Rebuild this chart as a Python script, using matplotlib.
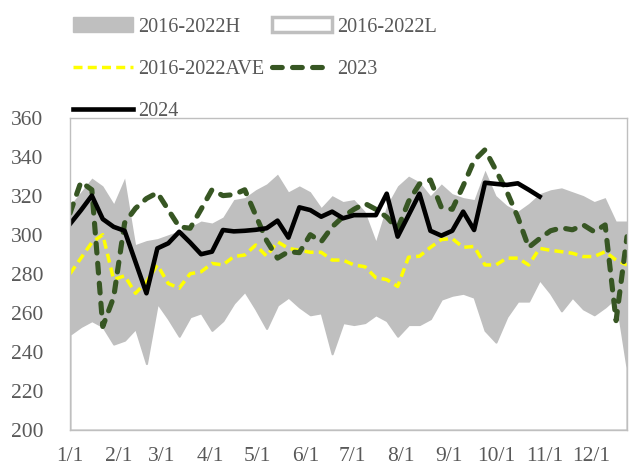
import numpy as np
import matplotlib.pyplot as plt
from matplotlib.patches import Patch
from matplotlib.lines import Line2D

plt.rcParams['font.family'] = ['Liberation Serif', 'DejaVu Serif']

# weekly points, x = day of year
week_day = np.arange(52) * 7

hist_high = [315, 322, 329, 325, 316, 329, 295, 297, 298, 300,
             302, 304, 307, 306, 309, 318, 319, 323, 326, 331,
             322, 325, 322, 314, 320, 317, 318, 312, 297, 315,
             325, 330, 327, 320, 326, 321, 319, 318, 333, 320,
             315, 312, 316, 321, 323, 324, 322, 320, 317, 319,
             307, 307]
hist_low = [249, 253, 256, 253, 244, 246, 252, 234, 265, 257,
            248, 258, 260, 251, 256, 265, 271, 262, 252, 264,
            268, 263, 259, 260, 239, 255, 254, 255, 259, 256,
            248, 254, 254, 257, 267, 269, 270, 268, 251, 245,
            258, 266, 266, 277, 270, 261, 268, 262, 259, 263,
            268, 232]
hist_ave = [280, 288, 296, 300, 277, 279, 270, 276, 284.5, 275,
            272.6, 280, 281, 285.3, 284.5, 288.8, 289.6, 294.7, 289, 296.4,
            293, 292, 291, 291, 287, 287, 284.5, 283.6, 278, 277,
            273.5, 288.5, 289, 293.5, 297.5, 298, 293.5, 294, 284.5, 284.5,
            288, 288, 284.5, 293, 292, 291.3, 290.5, 288.8, 288.8, 291.3,
            287, 284.5]
y2023 = [311, 327, 323, 253, 268, 306, 313.5, 318.5, 321.5, 312.7,
         304, 303.3, 313, 323, 320, 320.5, 323, 310, 297, 288,
         291.3, 290.8, 300, 296.4, 304, 309.2, 313, 316, 313, 309,
         303, 317, 326, 328, 314, 313, 325, 338, 343.5, 333,
         322, 309, 293.5, 298, 302, 303.5, 302.5, 305, 301.5, 305,
         256, 299]
y2024 = [305.5, 312.5, 320, 308, 304, 302, 286, 270, 293, 295.6,
         301.5, 296, 290, 291.3, 302.4, 301.7, 302, 302.5, 303.3, 307.2,
         298.5, 314, 312.6, 309.2, 311.8, 308.4, 310, 310, 310, 321,
         299, 310, 321, 302, 299.5, 302, 311.8, 302.4, 326.6, 326,
         325.5, 326.3, 323, 319.5]

month_days = [0, 31, 59, 90, 120, 151, 181, 212, 243, 273, 304, 334]
month_labels = ['1/1', '2/1', '3/1', '4/1', '5/1', '6/1',
                '7/1', '8/1', '9/1', '10/1', '11/1', '12/1']

W, H = 629, 469
fig = plt.figure(figsize=(W / 100, H / 100), dpi=100)
ax = fig.add_axes([70 / W, 1 - 430 / H, 557 / W, 312.5 / H])

gray = '#BFBFBF'
ave_style = dict(color='#FFFF00', lw=2.5, dashes=(2.6, 1.5))
s2023_style = dict(color='#375623', lw=3.7, dashes=(1.9, 2.0), dash_capstyle='round')
s2024_style = dict(color='black', lw=3.3)

ax.fill_between(week_day, 200, hist_high, color=gray, lw=0)
ax.fill_between(week_day, 200, hist_low, facecolor='white', edgecolor=gray, lw=1.5)

ax.plot(week_day, hist_ave, **ave_style)
ax.plot(week_day, y2023, **s2023_style)
ax.plot(week_day[:len(y2024)], y2024, **s2024_style)

ax.set_xlim(0, 357)
ax.set_ylim(200, 360)
ax.set_yticks(np.arange(200, 361, 20))
ax.set_xticks(month_days)
ax.set_xticklabels(month_labels)
ax.tick_params(axis='both', length=0, labelsize=15.5, colors='#595959')
ax.tick_params(axis='y', pad=19)
ax.tick_params(axis='x', pad=12)
for s in ax.spines.values():
    s.set_color(gray)
    s.set_linewidth(1)

handles = [
    Patch(facecolor=gray, edgecolor=gray, label='2016-2022H'),
    Line2D([], [], label='2016-2022AVE', **ave_style),
    Line2D([], [], label='2024', **s2024_style),
    Patch(facecolor='white', edgecolor=gray, lw=2.5, label='2016-2022L'),
    Line2D([], [], label='2023', **s2023_style),
]
fig.legend(handles=handles, ncol=2, loc='upper left',
           bbox_to_anchor=(73 / W, 1 - 17 / H), frameon=False,
           fontsize=14.5, labelcolor='#595959', handlelength=3.0,
           handleheight=0.8, handletextpad=0.25, columnspacing=0.35,
           labelspacing=1.12, borderpad=0, borderaxespad=0)

fig.savefig('out.png', dpi=100)
